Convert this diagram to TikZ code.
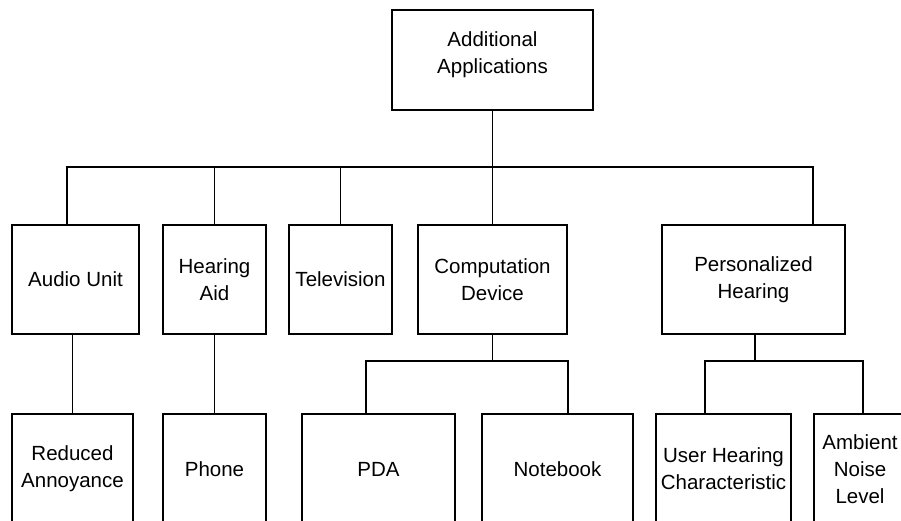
\documentclass[tikz,border=0pt]{standalone}
\usepackage{fontspec}
\setmainfont{Liberation Sans}
\usepackage{tikz}
\usetikzlibrary{calc, positioning}

\begin{document}
\begin{tikzpicture}[x=1pt, y=-1pt, font=\fontsize{20.5}{27}\selectfont]
		\tikzstyle{box} = [draw=black, rectangle, line width=1.6pt, inner sep=0pt, align=center, minimum height=109pt]
		\tikzstyle{topbox} = [box, line width=2.2pt, minimum width=201pt, minimum height=100pt]
		\tikzstyle{leaf} = [box, minimum height=110pt]
		\tikzstyle{line} = [line width=1.6pt]
		
		\useasboundingbox (0, 0) rectangle (901, 520);
		\clip (0, 0) rectangle (901, 520);
		
		\coordinate (bus) at (0, 167);
		\coordinate (cbus) at (0, 361);
		
		\node[topbox]					at (492.5, 60)		(q0)	{Additional\\Applications\\[-13pt]};
		
		\node[box, minimum width=127pt]	at (75.5, 279.5)	(q1)	{Audio Unit};
		\node[box, minimum width=103pt]	at (214.5, 279.5)	(q2)	{Hearing\\Aid};
		\node[box, minimum width=103pt]	at (340.5, 279.5)	(q3)	{Television};
		\node[box, minimum width=149pt]	at (492.5, 279.5)	(q4)	{Computation\\Device};
		\node[box, minimum width=183pt]	at (753.5, 279.5)	(q5)	{Personalized\\Hearing};
		
		\node[leaf, minimum width=121pt]	at (72.5, 469)	(q6)	{Reduced\\Annoyance};
		\node[leaf, minimum width=103pt]	at (214.5, 469)	(q7)	{Phone};
		\node[leaf, minimum width=153pt]	at (378.5, 469)	(q8)	{PDA};
		\node[leaf, minimum width=151pt]	at (557.5, 469)	(q9)	{Notebook};
		\node[leaf, minimum width=135pt]	at (723.5, 469)	(q10)	{User Hearing\\Characteristic};
		\node[leaf, minimum width=92pt]	at (860, 469)		(q11)	{Ambient\\Noise\\Level};
		
		\draw [line] (q0.south) -- (q0.south |- bus) -| ([xshift=-8.5pt]q1.north);
		\draw [line] (q0.south |- bus) -| (q2.north);
		\draw [line] (q0.south |- bus) -| (q3.north);
		\draw [line] (q0.south |- bus) -- (q4.north);
		\draw [line] (q0.south |- bus) -| ([xshift=59.5pt]q5.north);
		
		\draw [line] (q1.south -| q6.north) -- (q6.north);
		\draw [line] (q2.south) -- (q7.north);
		
		\draw [line] (q4.south) -- (q4.south |- cbus) -| ([xshift=-12.5pt]q8.north);
		\draw [line] (q4.south |- cbus) -| ([xshift=10.5pt]q9.north);
		\draw [line] ([xshift=1.5pt]q5.south) -- ([xshift=1.5pt]q5.south |- cbus) -| ([xshift=-18.5pt]q10.north);
		\draw [line] ([xshift=1.5pt]q5.south |- cbus) -| ([xshift=3pt]q11.north);
	\end{tikzpicture}
\end{document}
